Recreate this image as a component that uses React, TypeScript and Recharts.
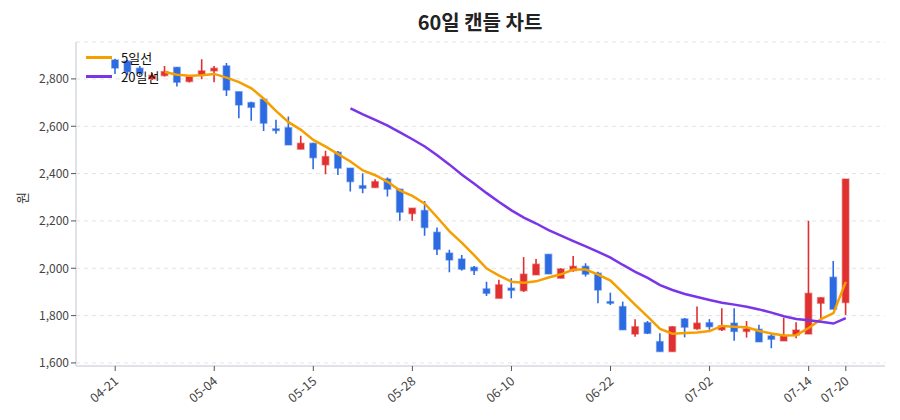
import React from 'react';
import { ComposedChart, Bar, Line, XAxis, YAxis, CartesianGrid } from 'recharts';

const dates = [
  '04-21', '04-22', '04-23', '04-24', '04-27', '04-28', '04-29', '04-30', '05-04', '05-06',
  '05-07', '05-08', '05-11', '05-12', '05-13', '05-14', '05-15', '05-18', '05-19', '05-20',
  '05-21', '05-22', '05-25', '05-26', '05-28', '05-29', '06-01', '06-02', '06-03', '06-04',
  '06-05', '06-08', '06-10', '06-11', '06-12', '06-15', '06-16', '06-17', '06-18', '06-19',
  '06-22', '06-23', '06-24', '06-25', '06-26', '06-29', '06-30', '07-01', '07-02', '07-03',
  '07-06', '07-07', '07-08', '07-09', '07-10', '07-13', '07-14', '07-15', '07-16', '07-20',
];

const opens = [
  2880, 2875, 2845, 2800, 2814, 2849, 2789, 2817, 2834, 2855,
  2746, 2700, 2714, 2589, 2594, 2503, 2528, 2437, 2490, 2423,
  2349, 2341, 2377, 2334, 2231, 2244, 2152, 2064, 2039, 2004,
  1913, 1873, 1916, 1905, 1972, 2059, 1958, 1990, 2008, 1979,
  1859, 1838, 1722, 1770, 1690, 1648, 1786, 1744, 1770, 1740,
  1768, 1733, 1742, 1714, 1693, 1718, 1722, 1852, 1962, 1855,
];
const highs = [
  2885, 2880, 2855, 2825, 2855, 2850, 2815, 2883, 2855, 2867,
  2746, 2704, 2714, 2627, 2641, 2560, 2530, 2496, 2495, 2423,
  2401, 2376, 2383, 2336, 2254, 2284, 2172, 2078, 2056, 2010,
  1943, 1951, 1958, 2047, 2039, 2059, 2000, 2052, 2021, 1985,
  1897, 1859, 1785, 1777, 1725, 1755, 1790, 1838, 1785, 1831,
  1831, 1777, 1761, 1725, 1791, 1772, 2201, 1878, 2031, 2377,
];
const lows = [
  2821, 2815, 2815, 2795, 2810, 2768, 2785, 2799, 2786, 2728,
  2634, 2623, 2580, 2568, 2521, 2503, 2418, 2397, 2394, 2324,
  2317, 2341, 2303, 2201, 2201, 2137, 2056, 1983, 1990, 1972,
  1883, 1873, 1873, 1900, 1972, 1976, 1958, 1985, 1965, 1852,
  1845, 1740, 1711, 1722, 1648, 1648, 1708, 1740, 1740, 1735,
  1694, 1707, 1689, 1662, 1693, 1704, 1722, 1789, 1827, 1803,
];
const closes = [
  2846, 2830, 2825, 2815, 2831, 2786, 2810, 2834, 2845, 2753,
  2690, 2680, 2613, 2582, 2521, 2528, 2467, 2472, 2423, 2366,
  2338, 2366, 2334, 2237, 2254, 2172, 2080, 2035, 1996, 1990,
  1894, 1930, 1907, 1975, 2017, 1976, 1997, 2008, 1975, 1908,
  1852, 1740, 1753, 1725, 1648, 1753, 1751, 1768, 1753, 1757,
  1733, 1744, 1689, 1700, 1715, 1739, 1894, 1876, 1827, 2377,
];
const ma5 = [
  null, null, null, null, 2829.4, 2817.4, 2813.4, 2815.2, 2821.2, 2805.6,
  2786.4, 2760.4, 2716.2, 2663.6, 2617.2, 2584.8, 2542.2, 2514.0, 2482.2, 2451.2,
  2413.2, 2393.0, 2365.4, 2328.2, 2305.8, 2272.6, 2215.4, 2155.6, 2107.4, 2054.6,
  1999.0, 1969.0, 1943.4, 1939.2, 1944.6, 1961.0, 1974.4, 1994.6, 1994.6, 1972.8,
  1948.0, 1896.6, 1845.6, 1795.6, 1743.6, 1723.8, 1726.0, 1729.0, 1734.6, 1756.4,
  1752.4, 1751.0, 1735.2, 1724.6, 1716.2, 1717.4, 1747.4, 1784.8, 1810.2, 1942.6,
];
const ma20 = [
  null, null, null, null, null, null, null, null, null, null,
  null, null, null, null, null, null, null, null, null, 2675.9,
  2650.5, 2627.3, 2602.7, 2573.8, 2545.0, 2514.3, 2477.8, 2437.8, 2395.4, 2357.2,
  2317.4, 2279.9, 2244.6, 2214.3, 2189.1, 2161.5, 2138.0, 2114.8, 2092.4, 2069.5,
  2045.2, 2013.9, 1984.8, 1959.2, 1928.9, 1908.0, 1891.5, 1878.2, 1866.0, 1854.4,
  1846.3, 1837.0, 1826.1, 1812.4, 1797.3, 1785.4, 1780.3, 1773.7, 1766.3, 1789.7,
];

const yTicks = [1600, 1800, 2000, 2200, 2400, 2600, 2800];
const xTicks = ['04-21', '05-04', '05-15', '05-28', '06-10', '06-22', '07-02', '07-14', '07-20'];

const RED = '#e03030';
const BLUE = '#2d6be2';
const ORANGE = '#f59f00';
const PURPLE = '#7b35e8';
const FONT = '"Noto Sans CJK KR", "Noto Sans", sans-serif';

const data = dates.map((d, i) => ({
  date: d,
  open: opens[i],
  high: highs[i],
  low: lows[i],
  close: closes[i],
  range: [lows[i], highs[i]],
  ma5: ma5[i],
  ma20: ma20[i],
}));

function Candle(props: any) {
  const { x, y, width, height, payload } = props;
  if (x == null || y == null || !payload) return null;
  const top = Math.min(y, y + height);
  const h = Math.abs(height);
  const { open, close, high, low } = payload;
  const k = h / (high - low || 1);
  const yO = top + (high - open) * k;
  const yC = top + (high - close) * k;
  const color = close >= open ? RED : BLUE;
  const bt = Math.min(yO, yC);
  const bh = Math.max(Math.abs(yO - yC), 1.5);
  const cx = x + width / 2;
  return (
    <g>
      <line x1={cx} x2={cx} y1={top} y2={top + h} stroke={color} strokeWidth={1.6} />
      <rect x={x + 0.75} y={bt} width={width - 1.5} height={bh} fill={color} stroke={color} strokeOpacity={0.45} strokeWidth={1.5} />
    </g>
  );
}

function XTick(props: any) {
  const { x, y, payload } = props;
  return (
    <g transform={`translate(${x},${y})`}>
      <text x={0} y={0} dy={10} dx={-3} textAnchor="end" transform="rotate(-40)" fontSize={12.5} fill="#444" fontFamily={FONT}>
        {payload.value}
      </text>
    </g>
  );
}

export default function App() {
  return (
    <div style={{ position: 'absolute', left: 0, top: 0, width: 900, height: 420, background: '#fff', fontFamily: FONT }}>
      <div style={{ position: 'absolute', left: 0, width: 960, top: 8, textAlign: 'center', fontSize: 20, fontWeight: 700, color: '#222', fontFamily: FONT, lineHeight: '28px' }}>
        60일 캔들 차트
      </div>
      <ComposedChart width={900} height={420} data={data} margin={{ top: 42, right: 15, bottom: 4, left: 10 }}>
        <CartesianGrid vertical={false} strokeDasharray="4 4" stroke="#e4e4e4" />
        <XAxis
          dataKey="date"
          ticks={xTicks}
          interval={0}
          padding={{ left: 33, right: 33 }}
          height={50}
          tick={<XTick />}
          tickSize={5}
          tickLine={{ stroke: '#555' }}
          axisLine={{ stroke: '#dfe3e8', strokeWidth: 2 }}
        />
        <YAxis
          domain={[1587, 2956]}
          ticks={yTicks}
          allowDataOverflow
          width={66}
          tickFormatter={(v: number) => v.toLocaleString('en-US')}
          tick={{ fill: '#444', fontSize: 12, fontFamily: FONT }}
          tickSize={5}
          tickLine={{ stroke: '#555' }}
          axisLine={{ stroke: '#dfe3e8', strokeWidth: 2 }}
          label={{ value: '원', angle: -90, position: 'insideLeft', offset: 12, style: { fill: '#333', fontSize: 13, fontFamily: FONT } }}
        />
        <Bar dataKey="range" barSize={8} shape={<Candle />} isAnimationActive={false} />
        <Line type="linear" dataKey="ma5" stroke={ORANGE} strokeWidth={2.5} dot={false} isAnimationActive={false} connectNulls={false} />
        <Line type="linear" dataKey="ma20" stroke={PURPLE} strokeWidth={2.5} dot={false} isAnimationActive={false} connectNulls={false} />
      </ComposedChart>
      <div style={{ position: 'absolute', left: 86, top: 48, fontFamily: FONT, fontSize: 13, color: '#111', lineHeight: '19px' }}>
        <div style={{ display: 'flex', alignItems: 'center' }}>
          <span style={{ display: 'inline-block', width: 26, height: 3, background: ORANGE, marginRight: 9 }} />
          <span>5일선</span>
        </div>
        <div style={{ display: 'flex', alignItems: 'center' }}>
          <span style={{ display: 'inline-block', width: 26, height: 3, background: PURPLE, marginRight: 9 }} />
          <span>20일선</span>
        </div>
      </div>
    </div>
  );
}
